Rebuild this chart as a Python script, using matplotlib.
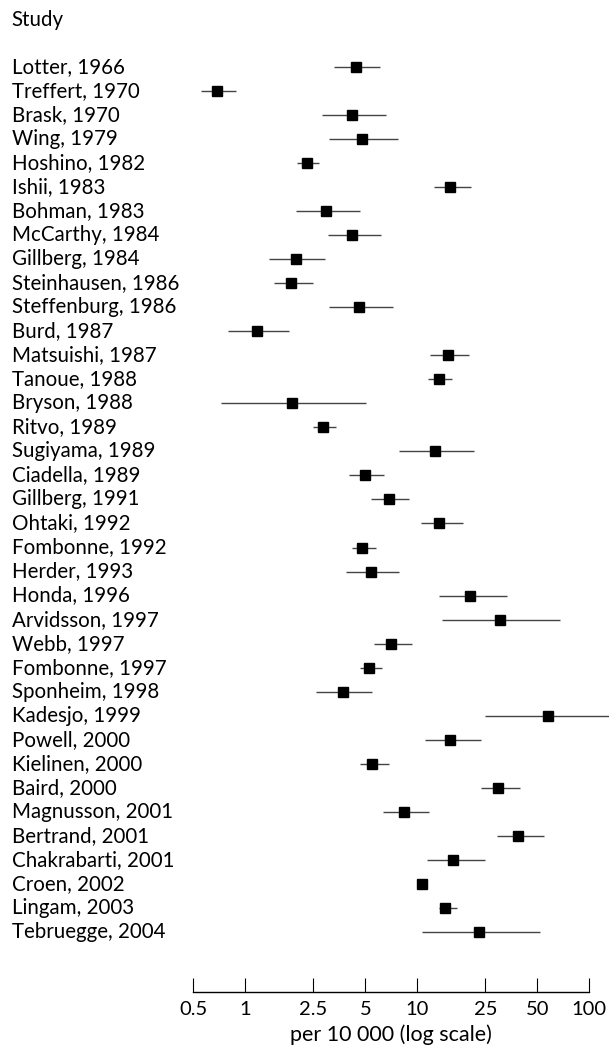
import matplotlib
matplotlib.use("Agg")
import numpy as np
import matplotlib.pyplot as plt
from matplotlib import transforms
from matplotlib.ticker import NullLocator

studies = ["Lotter, 1966", "Treffert, 1970", "Brask, 1970", "Wing, 1979",
           "Hoshino, 1982", "Ishii, 1983", "Bohman, 1983", "McCarthy, 1984",
           "Gillberg, 1984", "Steinhausen, 1986", "Steffenburg, 1986", "Burd, 1987",
           "Matsuishi, 1987", "Tanoue, 1988", "Bryson, 1988", "Ritvo, 1989",
           "Sugiyama, 1989", "Ciadella, 1989", "Gillberg, 1991", "Ohtaki, 1992",
           "Fombonne, 1992", "Herder, 1993", "Honda, 1996", "Arvidsson, 1997",
           "Webb, 1997", "Fombonne, 1997", "Sponheim, 1998", "Kadesjo, 1999",
           "Powell, 2000", "Kielinen, 2000", "Baird, 2000", "Magnusson, 2001",
           "Bertrand, 2001", "Chakrabarti, 2001", "Croen, 2002", "Lingam, 2003",
           "Tebruegge, 2004"]
rate = [4.41, 0.69, 4.19, 4.80, 2.28, 15.5, 2.96, 4.19, 1.98, 1.86, 4.60, 1.18,
        15.1, 13.4, 1.87, 2.85, 12.8, 4.97, 6.86, 13.5, 4.80, 5.38, 20.3, 30.2,
        7.05, 5.27, 3.72, 57.8, 15.5, 5.49, 29.7, 8.36, 38.7, 16.2, 10.7, 14.5,
        23.0]
lower = [3.28, 0.555, 2.81, 3.07, 2.00, 12.5, 1.98, 3.04, 1.38, 1.47, 3.08, 0.794,
         11.9, 11.6, 0.723, 2.50, 7.86, 4.00, 5.38, 10.5, 4.19, 3.88, 13.4, 13.9,
         5.61, 4.67, 2.58, 24.9, 11.2, 4.63, 23.4, 6.32, 29.3, 11.4, 10.3, 13.4,
         10.7]
upper = [6.12, 0.886, 6.62, 7.70, 2.69, 20.7, 4.63, 6.19, 2.90, 2.48, 7.23, 1.81,
         20.0, 16.0, 5.08, 3.39, 21.4, 6.45, 9.04, 18.4, 5.78, 7.90, 33.3, 67.9,
         9.38, 6.22, 5.49, 135.0, 23.4, 6.86, 39.8, 11.8, 54.6, 24.7, 11.1, 17.0,
         52.1]
ticks = [0.5, 1, 2.5, 5, 10, 25, 50, 100]
tick_labels = ["0.5", "1", "2.5", "5", "10", "25", "50", "100"]

plt.rcParams["font.family"] = ["Lato", "DejaVu Sans"]

W, H = 609, 1048
fig = plt.figure(figsize=(W / 100, H / 100), dpi=100)
ax = fig.add_axes([193.3 / W, (H - 992) / H, (589 - 193.3) / W, (992 - 20) / H])

y = np.arange(len(studies))
ax.hlines(y, lower, upper, color="#444444", lw=1.0, clip_on=False)
ax.plot(rate, y, "s", color="black", ms=6.8, clip_on=False)

ax.set_xscale("log")
ax.set_xlim(0.5, 100)
ax.set_ylim(38.49, -1.943)

for s in ["left", "top", "right"]:
    ax.spines[s].set_visible(False)
ax.spines["bottom"].set_bounds(0.5, 100)
ax.spines["bottom"].set_linewidth(1.0)
ax.set_yticks([])
ax.set_xticks(ticks)
ax.set_xticklabels(tick_labels)
ax.xaxis.set_minor_locator(NullLocator())
ax.tick_params(axis="x", direction="in", length=10, width=0.8,
               pad=6.5, labelsize=14.5)
ax.set_xlabel("per 10 000 (log scale)", fontsize=15.5, labelpad=4.5)

trans = transforms.blended_transform_factory(fig.transFigure, ax.transData)
for i, name in enumerate(studies):
    ax.text(11.6 / W, i, name, transform=trans, ha="left", va="center",
            fontsize=14.8)
fig.text(11.6 / W, 1 - 20 / H, "Study", ha="left", va="center", fontsize=14.8)

fig.savefig("out.png", dpi=100)
